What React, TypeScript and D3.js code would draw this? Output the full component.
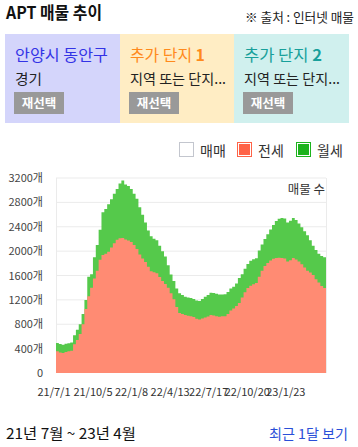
import React from "react";
import * as d3 from "d3";

const startDate = "2021-07-01";
const stepDays = 7;
const totalDays = 665;

// 전세 + 월세 (stacked total) weekly
const totalValues = [
  492, 475, 465, 480, 490, 500, 620, 710, 800, 970,
  1200, 1580, 1620, 1900, 2100, 2350, 2640, 2690, 2770, 2850,
  2940, 3020, 3110, 3160, 3095, 3070, 3020, 2940, 2860, 2720,
  2595, 2470, 2340, 2245, 2205, 2180, 2090, 2000, 1910, 1770,
  1615, 1510, 1385, 1310, 1280, 1252, 1238, 1232, 1215, 1190,
  1180, 1215, 1250, 1282, 1318, 1312, 1300, 1290, 1287, 1292,
  1330, 1385, 1415, 1470, 1560, 1620, 1710, 1790, 1842, 1867,
  1885, 2010, 2110, 2200, 2278, 2355, 2430, 2495, 2530, 2543,
  2535, 2470, 2500, 2543, 2510, 2455, 2392, 2326, 2262, 2180,
  2090, 2020, 1955, 1918, 1900,
];
// 전세 weekly
const jeonseValues = [
  355, 335, 328, 345, 355, 365, 470, 540, 640, 800,
  1050, 1260, 1400, 1550, 1680, 1860, 1935, 1955, 1990, 2060,
  2130, 2185, 2210, 2215, 2190, 2175, 2150, 2100, 2035, 1945,
  1878, 1820, 1745, 1670, 1652, 1635, 1575, 1510, 1460, 1400,
  1310, 1210, 1085, 983, 970, 952, 938, 932, 918, 890,
  878, 895, 910, 928, 952, 942, 930, 925, 932, 933,
  970, 1025, 1058, 1100, 1148, 1240, 1325, 1395, 1432, 1457,
  1475, 1578, 1680, 1757, 1804, 1845, 1875, 1889, 1890, 1887,
  1878, 1830, 1850, 1887, 1862, 1828, 1783, 1730, 1680, 1650,
  1610, 1540, 1485, 1428, 1395,
];

const yTicks = [0, 400, 800, 1200, 1600, 2000, 2400, 2800, 3200];
const xTickLabels = ["21/7/1", "21/10/5", "22/1/8", "22/4/13", "22/7/17", "22/10/20", "23/1/23"];
const xTickDates = ["2021-07-01", "2021-10-05", "2022-01-08", "2022-04-13", "2022-07-17", "2022-10-20", "2023-01-23"];

const panelTitles = ["안양시 동안구", "추가 단지 ", "추가 단지 "];
const panelNums = ["", "1", "2"];
const panelSubs = ["경기", "지역 또는 단지...", "지역 또는 단지..."];
const legendLabels = ["매매", "전세", "월세"];

const FONT = "'Noto Sans CJK KR', 'Noto Sans', sans-serif";

export default function App() {
  const parse = d3.utcParse("%Y-%m-%d");
  const t0 = parse(startDate)!;
  const t1 = d3.utcDay.offset(t0, totalDays);
  const left = 56, right = 326, top = 178, bottom = 373;
  const x = d3.scaleUtc().domain([t0, t1]).range([left, right]);
  const y = d3.scaleLinear().domain([0, 3200]).range([bottom, top]);

  const pts = totalValues.map((v, i) => ({
    d: d3.utcDay.offset(t0, i * stepDays),
    total: v,
    jeonse: jeonseValues[i],
  }));
  pts.push({ d: t1, total: totalValues[totalValues.length - 1], jeonse: jeonseValues[jeonseValues.length - 1] });

  const areaTotal = d3.area<any>().x((p) => x(p.d)).y0(y(0)).y1((p) => y(p.total)).curve(d3.curveStepAfter);
  const areaJeonse = d3.area<any>().x((p) => x(p.d)).y0(y(0)).y1((p) => y(p.jeonse)).curve(d3.curveStepAfter);

  const panelX = [5, 120, 234];
  const panelW = [115, 114, 115];
  const panelBg = ["#D4D5FB", "#FFEDC4", "#D0F0EE"];
  const panelColor = ["#3333E6", "#FF8A1C", "#18A09B"];
  const titleLen = [93, 75, 78];
  const subLen = [27, 96, 96];

  const legendX = [179, 237, 296];

  return (
    <svg width={358} height={447} style={{ position: "fixed", left: 0, top: 0, fontFamily: FONT }}>
      <rect width={358} height={447} fill="#fff" />
      <text x={6} y={18.5} fontSize={16.5} fontWeight="bold" fill="#111" textLength={96} lengthAdjust="spacingAndGlyphs">APT 매물 추이</text>
      <text x={354} y={22} fontSize={13} textAnchor="end" fill="#222" textLength={109} lengthAdjust="spacingAndGlyphs">※ 출처 : 인터넷 매물</text>

      {panelTitles.map((t, i) => (
        <g key={i}>
          <rect x={panelX[i]} y={34} width={panelW[i]} height={89} fill={panelBg[i]} />
          <text x={panelX[i] + 10} y={61} fontSize={15.5} fill={panelColor[i]} textLength={titleLen[i]} lengthAdjust="spacingAndGlyphs">
            {t}
            {panelNums[i] && <tspan fontWeight="bold">{panelNums[i]}</tspan>}
          </text>
          <text x={panelX[i] + 10} y={84} fontSize={14} fill="#222" textLength={subLen[i]} lengthAdjust="spacingAndGlyphs">{panelSubs[i]}</text>
          <rect x={panelX[i] + 9} y={92} width={50} height={22} fill="#999" />
          <text x={panelX[i] + 34} y={108} fontSize={12.5} fontWeight="bold" fill="#fff" textAnchor="middle">재선택</text>
        </g>
      ))}

      {/* legend */}
      <rect x={legendX[0] + 0.5} y={142.5} width={14} height={14} fill="#fff" stroke="#C3C6CE" />
      <rect x={legendX[1] + 0.5} y={142.5} width={14} height={14} fill="#fff" stroke="#FF6347" />
      <rect x={legendX[1] + 2} y={144} width={11} height={11} fill="#FF6347" />
      <rect x={legendX[2] + 0.5} y={142.5} width={14} height={14} fill="#fff" stroke="#1DB31D" />
      <rect x={legendX[2] + 2} y={144} width={11} height={11} fill="#1DB31D" />
      {legendLabels.map((l, i) => (
        <text key={l} x={legendX[i] + 21} y={155.5} fontSize={14} fill="#333">{l}</text>
      ))}

      {/* grid */}
      {yTicks.map((v) => (
        <g key={v}>
          {v > 0 && <line x1={left} x2={right} y1={y(v)} y2={y(v)} stroke="#EBEBEB" />}
          <text x={43} y={y(v) + 4} fontSize={11} textAnchor="end" fill="#444">{v === 0 ? "0" : `${v}개`}</text>
        </g>
      ))}
      <line x1={left + 0.5} x2={left + 0.5} y1={top} y2={bottom} stroke="#EBEBEB" />
      <line x1={right + 0.5} x2={right + 0.5} y1={top} y2={bottom} stroke="#EBEBEB" />

      <path d={areaTotal(pts)!} fill="#55C94B" />
      <path d={areaJeonse(pts)!} fill="#FF8B73" />

      <text x={325} y={194} fontSize={12.5} textAnchor="end" fill="#333">매물 수</text>

      {xTickDates.map((dStr, i) => (
        <text key={dStr} x={x(parse(dStr)!) - 2} y={396} fontSize={11} textAnchor="middle" fill="#333">{xTickLabels[i]}</text>
      ))}

      <text x={6} y={439} fontSize={15} fill="#111" textLength={130} lengthAdjust="spacingAndGlyphs">21년 7월 ~ 23년 4월</text>
      <text x={348} y={439} fontSize={13.5} textAnchor="end" fill="#2A4FD8" textLength={79} lengthAdjust="spacingAndGlyphs">최근 1달 보기</text>
    </svg>
  );
}
